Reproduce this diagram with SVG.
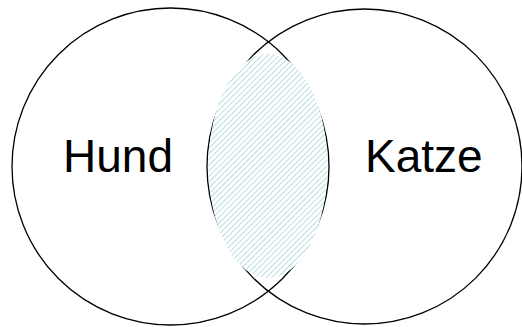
<svg xmlns="http://www.w3.org/2000/svg" width="522" height="327" viewBox="0 0 522 327">
  <style>
    .set { fill: none; stroke: #000; stroke-width: 1.3; }
    .lbl { font-family: "Liberation Sans", Arial, sans-serif; font-size: 46px; fill: #000; }
  </style>
  <defs>
    <pattern id="hatch" patternUnits="userSpaceOnUse" width="4" height="4" patternTransform="rotate(45)">
      <rect width="4" height="4" fill="#fff"/>
      <line x1="0" y1="0" x2="0" y2="4" stroke="#a6d6de" stroke-width="1.6"/>
    </pattern>
  </defs>
  <rect width="522" height="327" fill="#fff"/>
  <g id="hund">
    <circle class="set" cx="170.5" cy="166.5" r="158.5"/>
    <text class="lbl" x="63" y="172">Hund</text>
  </g>
  <g id="katze">
    <circle class="set" cx="364.5" cy="166.5" r="157.5"/>
    <text class="lbl" x="365" y="172">Katze</text>
  </g>
  <g id="intersection">
    <ellipse cx="268" cy="166" rx="59.5" ry="112" fill="url(#hatch)"/>
  </g>
  <g id="connectors"/>
</svg>
